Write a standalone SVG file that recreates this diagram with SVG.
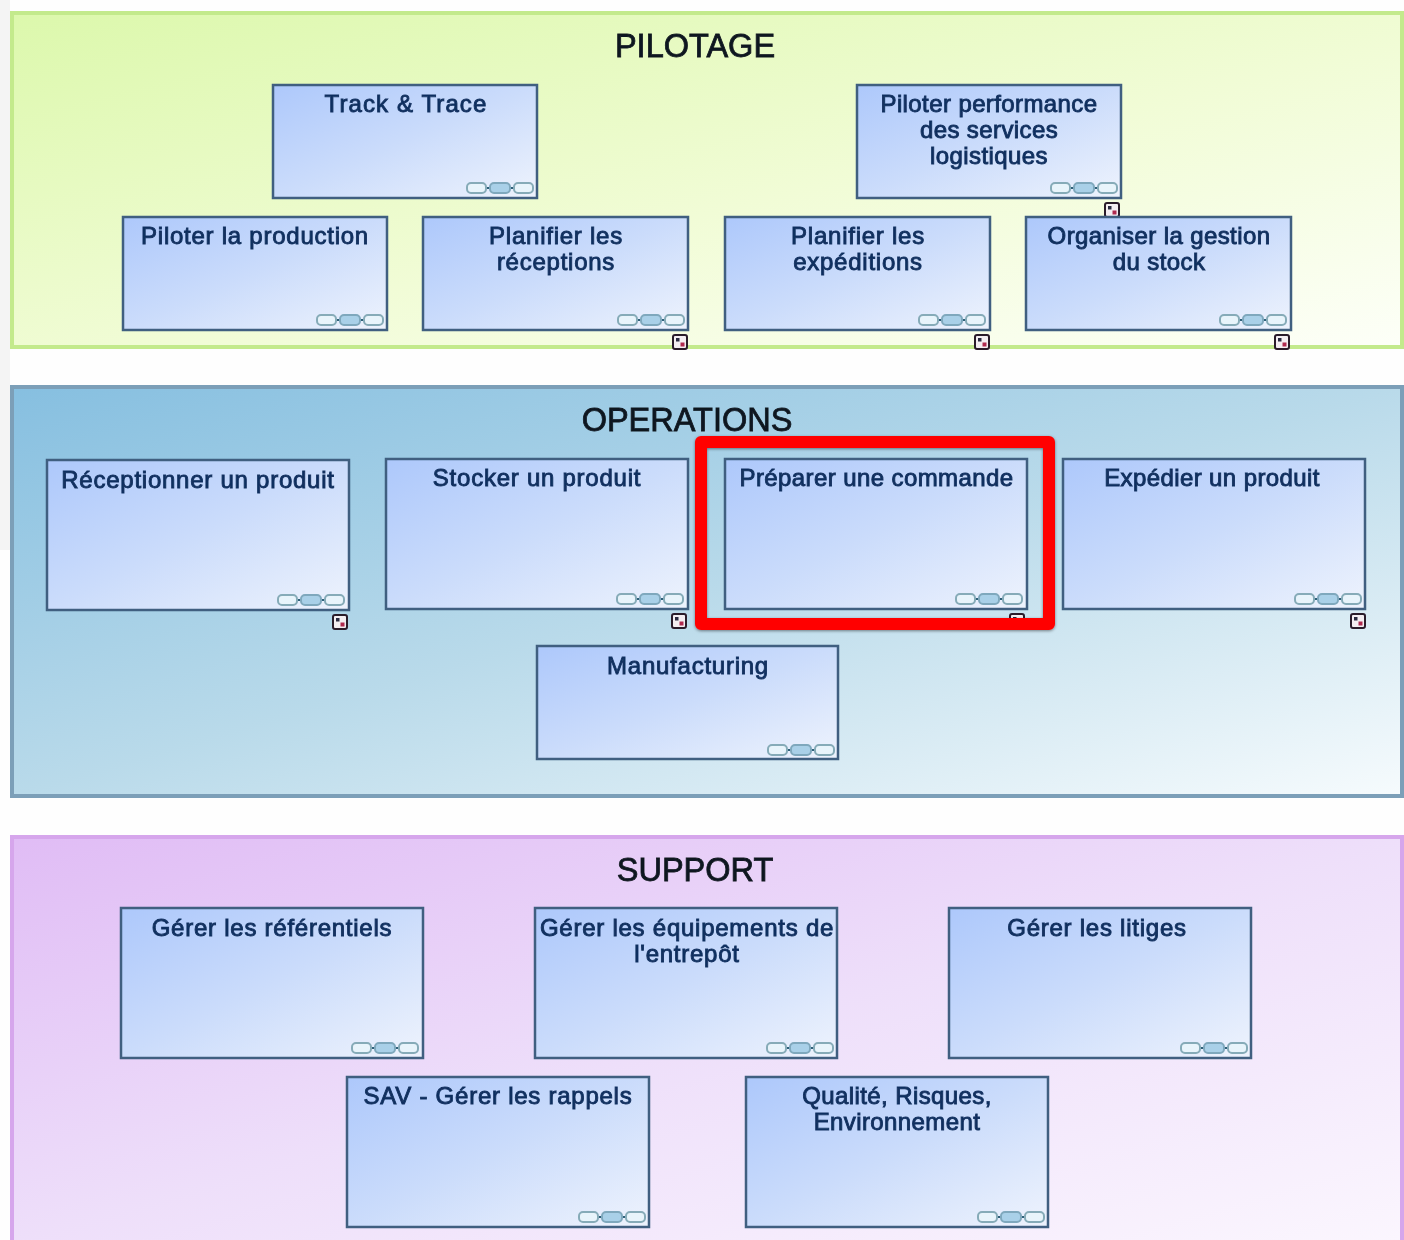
<svg xmlns="http://www.w3.org/2000/svg" xmlns:xlink="http://www.w3.org/1999/xlink" width="1404" height="1240" viewBox="0 0 1404 1240">
<defs>
<filter id="soft" x="-2%" y="-2%" width="104%" height="104%"><feGaussianBlur stdDeviation="0.55"/></filter>
<filter id="shadow" x="-5%" y="-5%" width="110%" height="110%"><feDropShadow dx="0" dy="1" stdDeviation="1.500" flood-color="#000" flood-opacity="0.45"/></filter>
<linearGradient id="gP" x1="0" y1="0" x2="1" y2="1"><stop offset="0" stop-color="#dcf8ac"/><stop offset="0.55" stop-color="#f1fcd6"/><stop offset="1" stop-color="#fdfff8"/></linearGradient>
<linearGradient id="gO" x1="0" y1="0" x2="1" y2="1"><stop offset="0" stop-color="#86bfe0"/><stop offset="0.5" stop-color="#b9daea"/><stop offset="1" stop-color="#f6fbfd"/></linearGradient>
<linearGradient id="gS" x1="0" y1="0" x2="1" y2="1"><stop offset="0" stop-color="#e0bcf5"/><stop offset="0.5" stop-color="#eedffa"/><stop offset="1" stop-color="#fbf6fe"/></linearGradient>
<linearGradient id="gN" x1="0" y1="0" x2="1" y2="1"><stop offset="0" stop-color="#adc8fb"/><stop offset="0.5" stop-color="#cbdcfb"/><stop offset="1" stop-color="#eef3fd"/></linearGradient>
<g id="chain">
<path d="M-14 0H-10M10 0H14" stroke="#2f5f78" stroke-width="2" fill="none"/>
<rect x="-33" y="-5" width="19" height="10" rx="4" fill="#e8f4fb" stroke="#86abb8" stroke-width="2"/>
<rect x="-10" y="-5" width="20" height="10" rx="4" fill="#a9d0e8" stroke="#7fa8bd" stroke-width="2"/>
<rect x="14" y="-5" width="19" height="10" rx="4" fill="#e8f4fb" stroke="#86abb8" stroke-width="2"/>
</g>
<g id="mark">
<rect x="-7" y="-7" width="14" height="14" rx="2" fill="#f4eef2" stroke="#2a1a2c" stroke-width="2"/>
<rect x="-4" y="-4" width="3.500" height="3.500" fill="#2a2a40"/>
<rect x="0.500" y="0.500" width="4" height="4" fill="#b02a50"/>
</g>
</defs>
<style>
.band{stroke-width:4}
.box{fill:url(#gN);stroke:#3f5f80;stroke-width:2.500}
.t{font-family:"Liberation Sans",Arial,sans-serif;font-size:24px;fill:#12305f;stroke:#12305f;stroke-width:.9px;text-anchor:middle;letter-spacing:.4px}
.w{letter-spacing:.75px}
.h{font-family:"Liberation Sans",Arial,sans-serif;font-size:32.500px;fill:#111820;stroke:#111820;stroke-width:.8px;text-anchor:middle}
</style>
<rect width="1404" height="1240" fill="#fefefe"/>
<rect x="0" y="0" width="10" height="550" fill="#f4f4f4"/>
<g filter="url(#soft)">
<g id="pilotage">
<rect class="band" x="12" y="13" width="1390" height="334" fill="url(#gP)" stroke="#c3ea8c"/>
<text class="h" x="695" y="57">PILOTAGE</text>
</g>
<g id="operations">
<rect class="band" x="12" y="387" width="1390" height="409" fill="url(#gO)" stroke="#7c9fb8"/>
<text class="h" x="687" y="431">OPERATIONS</text>
</g>
<g id="support">
<path class="band" d="M12 1242V837H1402V1242" fill="url(#gS)" stroke="#d6a6ec"/>
<text class="h" x="695" y="881">SUPPORT</text>
</g>
<g id="n1"><rect class="box" x="273" y="85" width="264" height="113"/><text class="t" style="letter-spacing:1.1px" x="406" y="112">Track &amp; Trace</text><use xlink:href="#chain" href="#chain" x="500" y="188"/></g>
<g id="n2"><rect class="box" x="857" y="85" width="264" height="113"/><text class="t" x="989" y="112">Piloter performance</text><text class="t" x="989" y="138">des services</text><text class="t" x="989" y="164">logistiques</text><use xlink:href="#chain" href="#chain" x="1084" y="188"/><use xlink:href="#mark" href="#mark" x="1112" y="210"/></g>
<g id="n3"><rect class="box" x="123" y="217" width="264" height="113"/><text class="t w" x="255" y="244">Piloter la production</text><use xlink:href="#chain" href="#chain" x="350" y="320"/></g>
<g id="n4"><rect class="box" x="423" y="217" width="265" height="113"/><text class="t w" x="556" y="244">Planifier les</text><text class="t w" x="556" y="270">réceptions</text><use xlink:href="#chain" href="#chain" x="651" y="320"/><use xlink:href="#mark" href="#mark" x="680" y="342"/></g>
<g id="n5"><rect class="box" x="725" y="217" width="265" height="113"/><text class="t w" x="858" y="244">Planifier les</text><text class="t w" x="858" y="270">expéditions</text><use xlink:href="#chain" href="#chain" x="952" y="320"/><use xlink:href="#mark" href="#mark" x="982" y="342"/></g>
<g id="n6"><rect class="box" x="1026" y="217" width="265" height="113"/><text class="t" x="1159" y="244">Organiser la gestion</text><text class="t" x="1159" y="270">du stock</text><use xlink:href="#chain" href="#chain" x="1253" y="320"/><use xlink:href="#mark" href="#mark" x="1282" y="342"/></g>
<g id="n7"><rect class="box" x="47" y="460" width="302" height="150"/><text class="t w" x="198" y="488">Réceptionner un produit</text><use xlink:href="#chain" href="#chain" x="311" y="600"/><use xlink:href="#mark" href="#mark" x="340" y="622"/></g>
<g id="n8"><rect class="box" x="386" y="459" width="302" height="150"/><text class="t w" x="537" y="486">Stocker un produit</text><use xlink:href="#chain" href="#chain" x="650" y="599"/><use xlink:href="#mark" href="#mark" x="679" y="621"/></g>
<g id="n9"><use xlink:href="#mark" href="#mark" x="1017" y="621"/><rect class="box" x="725" y="459" width="302" height="150"/><text class="t" x="876.500" y="486">Préparer une commande</text><use xlink:href="#chain" href="#chain" x="989" y="599"/></g>
<g id="n10"><rect class="box" x="1063" y="459" width="302" height="150"/><text class="t" x="1212" y="486">Expédier un produit</text><use xlink:href="#chain" href="#chain" x="1328" y="599"/><use xlink:href="#mark" href="#mark" x="1358" y="621"/></g>
<g id="n11"><rect class="box" x="537" y="646" width="301" height="113"/><text class="t w" x="688" y="674">Manufacturing</text><use xlink:href="#chain" href="#chain" x="801" y="750"/></g>
<g id="n12"><rect class="box" x="121" y="908" width="302" height="150"/><text class="t w" x="272" y="936">Gérer les référentiels</text><use xlink:href="#chain" href="#chain" x="385" y="1048"/></g>
<g id="n13"><rect class="box" x="535" y="908" width="302" height="150"/><text class="t w" x="687" y="936">Gérer les équipements de</text><text class="t w" x="687" y="962">l'entrepôt</text><use xlink:href="#chain" href="#chain" x="800" y="1048"/></g>
<g id="n14"><rect class="box" x="949" y="908" width="302" height="150"/><text class="t w" x="1097" y="936">Gérer les litiges</text><use xlink:href="#chain" href="#chain" x="1214" y="1048"/></g>
<g id="n15"><rect class="box" x="347" y="1077" width="302" height="150"/><text class="t w" x="498" y="1104">SAV - Gérer les rappels</text><use xlink:href="#chain" href="#chain" x="612" y="1217"/></g>
<g id="n16"><rect class="box" x="746" y="1077" width="302" height="150"/><text class="t" x="897" y="1104">Qualité, Risques,</text><text class="t" x="897" y="1130">Environnement</text><use xlink:href="#chain" href="#chain" x="1011" y="1217"/></g>
</g>
<g id="highlight"><rect x="701" y="442" width="348" height="182" fill="none" stroke="#ff0000" stroke-width="12" stroke-linejoin="round" filter="url(#shadow)"/></g>
<g id="connectors"/>
</svg>
